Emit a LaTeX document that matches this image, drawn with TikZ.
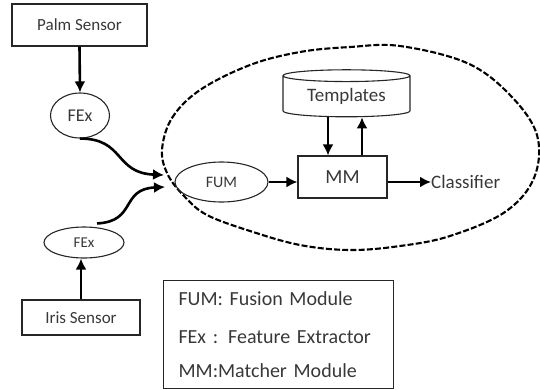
\documentclass[tikz,border=0pt]{standalone}
\usepackage{fontspec}
\setmainfont{Carlito}
\usetikzlibrary{arrows.meta, shapes.geometric, positioning}

\begin{document}
\begin{tikzpicture}[x=1pt, y=1pt,
    box/.style={draw=black!85, line width=1.1pt, rectangle, inner sep=0pt},
    oval/.style={draw=black!85, line width=1.1pt, ellipse, inner sep=0pt},
    arr/.style={line width=2.6pt, -{Latex[length=11pt, width=11pt]}},
    txt/.style={text=black!78}]

  \useasboundingbox (0,0) rectangle (540,-389);

  % --- Dashed region ---
  \draw[line width=2.1pt, dash pattern=on 6pt off 2.2pt, tension=0.6]
    plot[smooth cycle] coordinates {(162,-150) (172,-118) (200,-90) (250,-65)
      (300,-52) (350,-47) (400,-46) (467,-63) (510,-95) (537,-135)
      (534,-178) (505,-212) (450,-236) (400,-246) (350,-250) (300,-245)
      (250,-231) (207,-215) (185,-197) (168,-175)};

  % --- Sensors and extractors ---
  \node[box, txt, minimum width=135pt, minimum height=42pt, font=\fontsize{17}{20}\selectfont]
    (palm) at (79.5,-25) {Palm Sensor};
  \node[oval, txt, minimum width=59pt, minimum height=45pt, font=\fontsize{18}{21}\selectfont]
    (fex1) at (80,-115.5) {FEx};
  \node[oval, txt, minimum width=80pt, minimum height=31pt, font=\fontsize{15}{18}\selectfont]
    (fex2) at (84,-242.5) {FEx};
  \node[box, txt, minimum width=118pt, minimum height=35pt, font=\fontsize{17}{20}\selectfont]
    (iris) at (81,-317.5) {Iris Sensor};

  % --- Matching part ---
  \node[oval, txt, minimum width=93pt, minimum height=40pt, font=\fontsize{16}{19}\selectfont]
    (fum) at (221.5,-182) {FUM};
  \node[box, txt, minimum width=89pt, minimum height=42pt, font=\fontsize{20}{24}\selectfont]
    (mm) at (342.5,-177) {MM};
  \node[cylinder, shape border rotate=90, draw=black!85, line width=1.1pt, txt, aspect=0.15,
    minimum width=127pt, minimum height=47pt, inner sep=0pt, font=\fontsize{19}{22}\selectfont]
    (templates) at (346.5,-96.5) {Templates};
  \node[txt, anchor=west, inner sep=0pt, font=\fontsize{19}{22}\selectfont]
    (classifier) at (431,-182) {Classifier};

  \coordinate (in1) at (164,-175);
  \coordinate (in2) at (165,-187);

  % --- Arrows ---
  \draw[arr] (palm.south) -- (fex1.north);
  \draw[arr] (iris.north) -- (iris.north |- fex2.south);
  \draw[arr] (fex1.south) .. controls +(45,0) and +(-50,2) .. (in1);
  \draw[arr] ([xshift=13pt, yshift=3pt]fex2.north) .. controls +(40,2) and +(-45,-2) .. (in2);
  \draw[arr] (fum.east) -- (fum.east -| mm.west);
  \draw[arr] (mm.east |- classifier.west) -- (classifier.west);
  \draw[arr] (templates.south -| 328,0) -- (mm.north -| 328,0);
  \draw[arr] (mm.north -| 362,0) -- (templates.south -| 362,0);

  % --- Legend ---
  \node[box, txt, anchor=north west, text width=200pt, align=left, inner xsep=15pt,
    minimum height=108pt, font=\fontsize{20}{24}\selectfont]
    (legend) at (163,-280)
    {FUM: Fusion Module\\[14pt] FEx : Feature Extractor\\[10pt] MM:Matcher Module};

\end{tikzpicture}
\end{document}
